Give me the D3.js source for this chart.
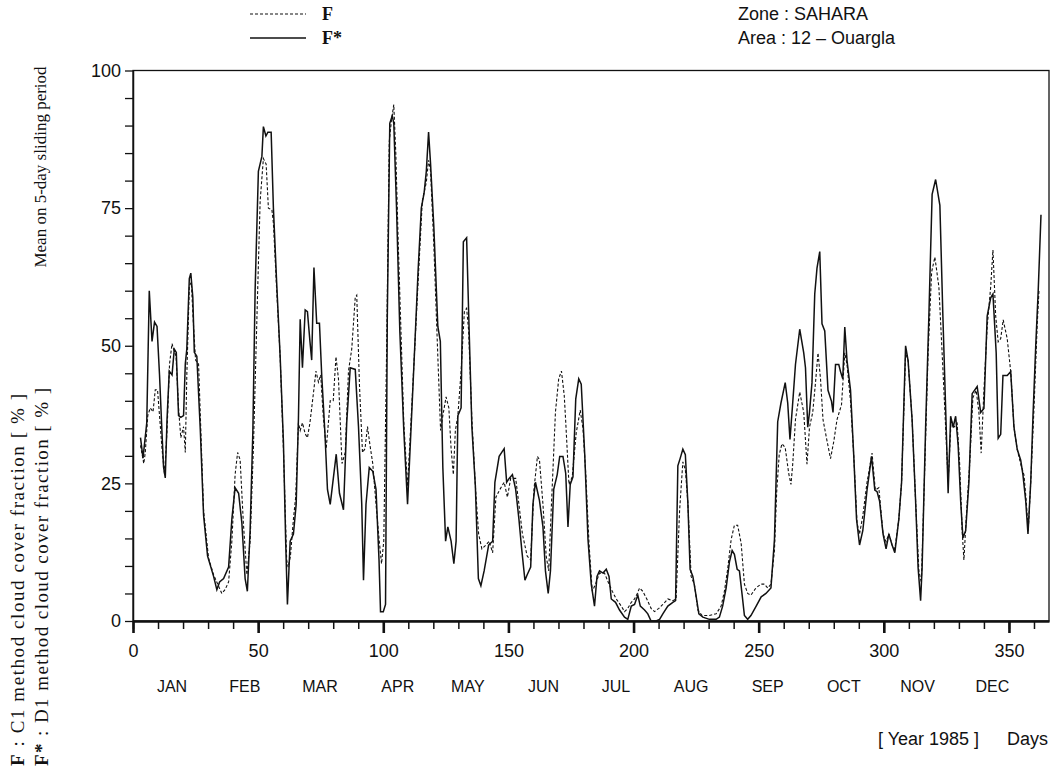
<!DOCTYPE html>
<html>
<head>
<meta charset="utf-8">
<script src="https://cdn.jsdelivr.net/npm/d3@7"></script>
<style>
  html, body { margin: 0; padding: 0; background: #fff; }
  svg { display: block; }
  .plotter { font-family: "Liberation Sans", Arial, sans-serif; fill: #111; }
  .serif { font-family: "Liberation Serif", "DejaVu Serif", serif; fill: #111; }
  .axis text { font-family: "Liberation Sans", Arial, sans-serif; font-size: 18px; fill: #111; }
  .axis line { stroke: #111; }
</style>
</head>
<body>
<svg id="chart" width="1055" height="771"></svg>
<script>
// F* : D1 method (solid line)
const fStarDays = [3, 4, 5.5, 6.5, 7.6, 8.6, 9.6, 10.6, 11.6, 12.2, 12.9, 13.6, 14.5, 15.6, 16.5, 17.3, 18.2, 19.1, 20.2, 20.9,
  21.5, 22.5, 23.1, 23.9, 24.5, 25.5, 26.9, 28.2, 29.8, 30.9, 32.2, 33.5, 34.6, 36.2, 38.2, 39.5, 40.8, 42.2, 43.5, 44.8,
  45.7, 46.8, 47.9, 48.8, 50.1, 51.5, 52.1, 53.1, 53.9, 55.2, 56.1, 57.4, 58.8, 60.1, 61, 61.7, 62.8, 64.1, 65.2, 66.1,
  66.8, 67.7, 68.8, 69.7, 70.7, 71.4, 72.3, 73.4, 74.5, 75.4, 76.7, 77.7, 78.8, 81.2, 82.5, 84.1, 85.4, 86.8, 88.8, 90.1,
  91.4, 92.1, 93.1, 94.4, 95.8, 97.1, 98.3, 98.9, 100, 100.9, 101.6, 102.6, 103.6, 104.2, 105.3, 106.6, 108.2, 109.7, 111.2, 112.6,
  113.9, 115.2, 116.3, 117.2, 118.1, 118.9, 120.2, 121.8, 122.8, 123.8, 124.9, 125.8, 127.1, 128.2, 129.1, 129.8, 131.1, 132, 133.3, 134.4,
  135.4, 136.8, 138, 139, 140.3, 142.1, 143.7, 144.6, 146.3, 148.3, 149.3, 150.3, 151.6, 152.9, 154.2, 155.3, 156.6, 157.5, 158.9, 159.8,
  160.8, 162.4, 163.8, 164.8, 165.9, 166.8, 168.1, 169.5, 170.5, 171.8, 172.9, 173.8, 174.7, 175.8, 176.9, 178.1, 179.1, 180.5, 181.8, 183.1,
  184.4, 185.4, 186.4, 187.8, 189.1, 190.2, 191.1, 192.8, 194.4, 196.4, 197.7, 199.1, 200.4, 201.7, 202.7, 204.4, 205.7, 207, 209, 210.4,
  211.7, 213.7, 215.7, 216.8, 217.7, 218.6, 219.7, 220.7, 221.7, 222.6, 223.7, 224.7, 226.1, 227.7, 230.3, 233, 234.3, 235.6, 237, 238.3,
  239.4, 240.3, 241.4, 242.3, 243.4, 244.3, 245.6, 246.9, 249, 251, 252.9, 254.9, 256.3, 257.6, 258.9, 260.6, 261.6, 262.5, 263.5, 264.7,
  266.4, 268, 268.7, 269.6, 270.3, 271.3, 272.4, 273.3, 274.4, 275.3, 276.4, 277.7, 279.1, 279.7, 280.7, 282, 282.7, 283.6, 284.4, 285.3,
  286.7, 288, 289.1, 290.3, 291.6, 293.3, 295.1, 296.4, 297.3, 298.3, 299.7, 300.9, 302, 303.3, 304.4, 306, 307.1, 308.7, 309.7, 311.3,
  312.7, 313.7, 314.7, 315.3, 316.7, 318, 319.3, 320.7, 322.4, 323.6, 324.7, 325.7, 326.7, 327.7, 328.7, 329.7, 330.7, 331.6, 332.7, 334,
  335.3, 337.3, 338.7, 340, 341.3, 342.7, 343.6, 344.9, 345.7, 346.7, 347.6, 349.3, 350.7, 352, 353.3, 354.7, 355.6, 356.7, 357.6, 358.7,
  359.6, 360.7, 361.7, 362.8];
const fStarValues = [33.3, 29.6, 36, 60, 50.8, 54.3, 53.5, 44.7, 34, 28, 26, 36.7, 45.4, 44.7, 49.4, 48.8, 37.3, 37, 37.3, 46.7,
  49.4, 62.2, 63.2, 58.8, 48.8, 48.1, 34.6, 19.2, 11.8, 10.1, 8.1, 5.7, 7.1, 7.7, 9.8, 18.5, 24.2, 23.2, 17.8, 7.7,
  5.4, 16.5, 34.6, 60.2, 81.7, 84.4, 89.8, 88.1, 88.8, 88.8, 75, 61.5, 48, 32.6, 14.5, 3, 14.5, 15.8, 21.2, 36.7,
  54.8, 46, 56.5, 56.2, 50.8, 47.4, 64.2, 54.1, 54.1, 44.7, 34, 23.9, 21.2, 30.3, 23.2, 20.2, 36, 46, 45.7, 35.3,
  21.2, 7.4, 21.2, 27.9, 27.2, 23.9, 11.1, 1.7, 1.7, 3, 54.8, 90.4, 91.8, 90.4, 75, 52.8, 34.6, 21.2, 36, 50.1,
  63.5, 75, 77.7, 81.7, 88.8, 83, 71.6, 53.5, 50.8, 27.9, 14.5, 17.1, 14.5, 10.4, 14.5, 37.3, 38.7, 68.9, 69.6, 51.4,
  35.3, 24.5, 7.7, 6.4, 9.1, 13.8, 14.5, 25.2, 29.9, 31.3, 25.2, 25.9, 26.6, 23.9, 18.5, 13.1, 7.4, 8.4, 9.8, 21.2,
  25.2, 21.9, 17.1, 9.1, 5, 9.1, 23.9, 26.6, 29.9, 29.9, 26.8, 17.1, 24.8, 26.2, 40.3, 44, 43, 30.2, 14.8, 6.7,
  2.7, 8.1, 9.1, 8.7, 9.4, 8.1, 4, 3.4, 2, 0.7, 0.3, 2.7, 3, 4.7, 2.7, 2, 1.3, 0, 0, 0.3,
  1.3, 2.7, 3.4, 3.7, 28.2, 29.5, 31.2, 30.2, 21.5, 9.4, 8.1, 5.4, 1.3, 0.7, 0.3, 0.3, 0.7, 2.7, 6, 10.7,
  12.8, 12.1, 9.4, 9.1, 4.7, 1, 0.3, 1, 2.7, 4.4, 5, 6, 14.8, 36.2, 39.6, 43.3, 39.6, 33, 39, 46.6,
  53, 48.7, 46, 35.2, 37.9, 43.3, 59.4, 64.1, 67.1, 54, 52.7, 41.9, 39.9, 37.9, 46.6, 46.6, 45.3, 44, 53.4, 47.3,
  41.9, 29.9, 18.5, 13.8, 16.4, 23.8, 29.9, 23.8, 23.5, 21.8, 15.8, 13.1, 15.8, 13.8, 12.4, 18.5, 25.2, 50, 47.3, 36.6,
  21.8, 9.7, 3.7, 9.7, 35.2, 55.4, 77.5, 80.2, 75.5, 55.4, 38.6, 23.2, 37.2, 35.2, 37.2, 31.9, 21.8, 15.1, 16.4, 25.2,
  41.3, 42.6, 37.9, 38.6, 55.4, 58.7, 59.4, 48.7, 33.2, 33.9, 44.6, 44.6, 45.3, 35.2, 31.2, 29.2, 26.5, 21.8, 15.8, 25.2,
  37.2, 50, 60.1, 73.8];

// F : C1 method (dashed line)
const fDays = [3, 4.3, 4.9, 5.9, 6.9, 8, 8.9, 9.8, 10.6, 11.6, 12.6, 13.6, 14.6, 15.6, 16.2, 17.2, 18.2, 19.1, 20.2, 20.9,
  21.5, 22.5, 23.3, 24.2, 25, 26.2, 28.2, 30.2, 32.2, 34.2, 35.5, 36.8, 38.2, 39.5, 40.8, 41.8, 42.8, 44.1, 45.5, 46.8,
  48.1, 49.5, 50.8, 52.1, 53.2, 54.1, 55.5, 56.1, 57.4, 58.8, 60.1, 61.4, 62, 62.9, 64.1, 65, 66.1, 66.8, 67.7, 68.8,
  69.7, 70.7, 72.1, 73.1, 74.1, 75, 76, 77.2, 78.8, 80, 81.1, 82.1, 83.5, 84.8, 86.1, 87.4, 88.8, 89.4, 90.5, 91.7,
  92.7, 93.7, 94.7, 95.8, 97.1, 98.4, 99.3, 100.2, 101.3, 102.4, 103.3, 104.2, 105, 106, 108.2, 109.7, 111.2, 113.9, 115.6, 117.2,
  118.1, 118.9, 120.2, 121.8, 122.9, 123.8, 125.1, 126.2, 127.1, 128, 128.8, 129.8, 131.1, 132.4, 133.3, 134.1, 135.4, 136.8, 138.1, 139.4,
  141, 142.3, 143.7, 145, 146.6, 148.3, 149.6, 150.9, 152.9, 154.2, 155.6, 157.5, 158.9, 160.2, 161.6, 162.4, 163.8, 165.1, 166.1, 167.2,
  168.8, 170.1, 171.2, 172.3, 172.9, 174.2, 175.5, 177.1, 178.7, 179.8, 180.9, 182.2, 183.5, 184.8, 186.4, 188.4, 190.2, 191.5, 193.1, 195.1,
  196.4, 197.7, 199.1, 200.4, 201.5, 202.4, 203.7, 205.3, 207, 208.4, 210.1, 211.7, 213.7, 215.7, 217, 218.4, 219.7, 220.7, 221.7, 223,
  224.3, 225.7, 227.4, 230.3, 233, 235, 236.3, 237.6, 239, 240.3, 241.6, 243, 244.3, 245.6, 246.9, 248.9, 250.9, 252.3, 253.6, 254.9,
  256.3, 257.2, 258.2, 259.3, 260.6, 262, 262.9, 263.6, 264.7, 266.4, 268, 269.3, 270.3, 271.6, 272.7, 273.7, 274.7, 275.7, 277.1, 278.7,
  280, 281.3, 283.1, 284.4, 285.3, 286.7, 288, 289.3, 290.3, 291.6, 293.3, 295.3, 296.6, 298, 299.7, 300.9, 302, 303.3, 304.4, 306,
  307.1, 308.7, 309.7, 311.3, 312.7, 314, 315, 316.4, 317.7, 319.1, 320.4, 322, 323.3, 324.7, 325.7, 326.9, 328, 329.3, 330.3, 331.3,
  332, 332.9, 334.3, 335.6, 336.9, 338, 338.9, 340, 341.3, 342.7, 343.6, 344.7, 345.7, 346.7, 347.7, 349.3, 350.7, 352, 353.3, 354.7,
  356, 356.9, 357.7, 358.7, 360, 361.3, 362];
const fValues = [31.9, 28.6, 30.6, 37.3, 38.7, 38, 42, 42, 37.3, 31.3, 26.6, 34.6, 46.7, 50.4, 49.4, 48.1, 38.7, 33.3, 35.3, 30.6,
  44.7, 60.9, 61.5, 53.5, 47.4, 46.7, 20, 11.4, 8.4, 6.3, 5, 5.7, 7.1, 14.5, 26.6, 30.6, 29.3, 17.8, 8.4, 14.5,
  31.3, 54.8, 76.3, 84, 83, 75, 74.7, 72.3, 60.2, 48, 31.3, 11.1, 9.8, 11.8, 18.5, 22.5, 36, 34.6, 36, 34,
  33.3, 36, 41.4, 45.4, 43.4, 44.7, 37.3, 31.3, 40, 40, 48, 44, 28.6, 30.6, 45.4, 49.4, 58.8, 59.2, 42.7, 30.6,
  31.3, 35.3, 31.9, 28.6, 21.2, 14.5, 10.4, 14.5, 48, 87.1, 91.1, 93.8, 85, 68.3, 36, 24.5, 37.3, 61.5, 76.3, 79.7,
  83.7, 81.7, 68.3, 48, 34.6, 37.3, 40.7, 38.7, 31.3, 26.6, 34.6, 37.3, 45.4, 56.2, 56.8, 52.8, 36.7, 24.5, 15.8, 13.1,
  13.8, 14.5, 12.4, 22.5, 23.9, 25.2, 22.5, 25.9, 25.9, 21.2, 15.8, 11.8, 11.1, 23.9, 29.9, 29.3, 21.2, 11.8, 9.1, 21.2,
  38, 44, 45.4, 41, 36.2, 24.8, 26.2, 34.2, 38.3, 34.9, 26.8, 14.1, 5.4, 6.7, 8.7, 8.7, 6.7, 5.4, 4, 2.7,
  1.7, 2.3, 3.4, 4, 5, 6, 5.4, 4, 2.3, 1.7, 2.3, 3, 4, 3.7, 4, 20.1, 28.9, 27.5, 21.5, 8.1,
  6.7, 2, 1, 1, 1.3, 2.7, 5.4, 9.4, 14.8, 17.4, 17.4, 14.1, 6.7, 5, 4.7, 6, 6.7, 6.7, 6, 6.7,
  12.8, 23.5, 30.2, 32.2, 31.5, 26.8, 24.8, 28.5, 36.6, 41.6, 37.9, 28.5, 35.2, 37.9, 43.3, 48.7, 44, 36.6, 33.2, 29.5,
  32.6, 36.6, 39.3, 48.7, 46.6, 39.9, 29.9, 17.8, 15.8, 19.1, 25.2, 30.5, 23.8, 24.2, 15.8, 14.4, 15.8, 13.8, 13.1, 18.5,
  25.2, 48.7, 47.3, 36.6, 21.8, 9.1, 7, 28.5, 48.7, 63.4, 66.1, 60.7, 48.7, 35.2, 25.2, 36.6, 35.2, 35.9, 28.5, 16.4,
  11.1, 18.5, 28.5, 40.6, 41.9, 37.9, 30.5, 41.9, 53.4, 60.7, 67.4, 55.4, 50.7, 51.3, 54.7, 51.3, 45.3, 35.2, 31.2, 28.5,
  26.5, 21.8, 16.4, 25.2, 38.6, 54, 60.1];

// axis labels
const xMajorTicks = [0, 50, 100, 150, 200, 250, 300, 350];
const yMajorTicks = [0, 25, 50, 75, 100];
const months = ["JAN", "FEB", "MAR", "APR", "MAY", "JUN", "JUL", "AUG", "SEP", "OCT", "NOV", "DEC"];
const monthLabelDays = [15.6, 44.7, 74.7, 105.8, 133.8, 164, 193, 223, 253.6, 284, 313.5, 343.4];

const svg = d3.select("#chart");

const x = d3.scaleLinear().domain([0, 366]).range([133, 1049]);
const y = d3.scaleLinear().domain([0, 100]).range([621, 70.5]);

// frame
svg.append("rect")
  .attr("x", x(0))
  .attr("y", y(100))
  .attr("width", x(366) - x(0))
  .attr("height", y(0) - y(100))
  .attr("fill", "none")
  .attr("stroke", "#111")
  .attr("stroke-width", 1.3);

// x axis: minor ticks every 10 days, longer ticks every 50
const xMinor = svg.append("g")
  .attr("class", "axis")
  .attr("transform", `translate(0,${y(0)})`)
  .call(d3.axisBottom(x).tickValues(d3.range(0, 361, 10)).tickSize(8).tickSizeOuter(0).tickFormat(""));
xMinor.select(".domain").remove();
xMinor.selectAll("line").attr("stroke-width", 1.5);

const xMajor = svg.append("g")
  .attr("class", "axis")
  .attr("transform", `translate(0,${y(0)})`)
  .call(d3.axisBottom(x).tickValues(xMajorTicks).tickSize(12).tickSizeOuter(0).tickPadding(11));
xMajor.select(".domain").attr("stroke", "#111").attr("stroke-width", 2.6);
xMajor.selectAll("line").attr("stroke-width", 2.6);

// y axis
const yAxis = svg.append("g")
  .attr("class", "axis")
  .attr("transform", `translate(${x(0)},0)`)
  .call(d3.axisLeft(y).tickValues(d3.range(0, 101, 5)).tickSize(8).tickSizeOuter(0).tickPadding(4)
    .tickFormat((d) => (yMajorTicks.includes(d) ? d : "")));
yAxis.select(".domain").attr("stroke", "#111").attr("stroke-width", 1.5);
yAxis.selectAll("line").attr("stroke-width", 1.3);

// series
const fStar = fStarDays.map((d, i) => [d, fStarValues[i]]);
const f = fDays.map((d, i) => [d, fValues[i]]);
const line = d3.line().x((d) => x(d[0])).y((d) => y(d[1]));

svg.append("path")
  .datum(f)
  .attr("d", line)
  .attr("fill", "none")
  .attr("stroke", "#111")
  .attr("stroke-width", 1.1)
  .attr("stroke-dasharray", "3,2");

svg.append("path")
  .datum(fStar)
  .attr("d", line)
  .attr("fill", "none")
  .attr("stroke", "#111")
  .attr("stroke-width", 1.5);

// month labels
svg.append("g")
  .selectAll("text")
  .data(months)
  .enter()
  .append("text")
  .attr("class", "plotter")
  .attr("x", (d, i) => x(monthLabelDays[i]))
  .attr("y", 692)
  .attr("text-anchor", "middle")
  .attr("font-size", 16)
  .text((d) => d);

svg.append("text").attr("class", "plotter").attr("x", 878).attr("y", 745)
  .attr("font-size", 18).text("[ Year 1985 ]");
svg.append("text").attr("class", "plotter").attr("x", 1048).attr("y", 745)
  .attr("font-size", 18).attr("text-anchor", "end").text("Days");

// zone / area
svg.append("text").attr("class", "plotter").attr("x", 738).attr("y", 20)
  .attr("font-size", 18).text("Zone : SAHARA");
svg.append("text").attr("class", "plotter").attr("x", 738).attr("y", 44)
  .attr("font-size", 18).text("Area : 12 \u2013 Ouargla");

// legend
const legend = svg.append("g");
legend.append("line").attr("x1", 250).attr("x2", 306).attr("y1", 14).attr("y2", 14)
  .attr("stroke", "#111").attr("stroke-width", 1.1).attr("stroke-dasharray", "3,2");
legend.append("line").attr("x1", 250).attr("x2", 306).attr("y1", 38).attr("y2", 38)
  .attr("stroke", "#111").attr("stroke-width", 1.5);
legend.append("text").attr("class", "serif").attr("x", 322).attr("y", 20)
  .attr("font-size", 18).attr("font-weight", "bold").text("F");
legend.append("text").attr("class", "serif").attr("x", 322).attr("y", 44)
  .attr("font-size", 18).attr("font-weight", "bold").text("F*");

// rotated y titles
svg.append("text").attr("class", "serif")
  .attr("transform", "translate(46,167) rotate(-90)")
  .attr("text-anchor", "middle")
  .attr("font-size", 17)
  .text("Mean on 5-day sliding period");

const t1 = svg.append("text").attr("class", "serif")
  .attr("transform", "translate(24,766) rotate(-90)")
  .attr("font-size", 19)
  .attr("textLength", 372)
  .attr("lengthAdjust", "spacing");
t1.append("tspan").attr("font-weight", "bold").text("F");
t1.append("tspan").text(" : C1 method cloud cover fraction [ % ]");

const t2 = svg.append("text").attr("class", "serif")
  .attr("transform", "translate(48,766) rotate(-90)")
  .attr("font-size", 19)
  .attr("textLength", 378)
  .attr("lengthAdjust", "spacing");
t2.append("tspan").attr("font-weight", "bold").text("F*");
t2.append("tspan").text(" : D1 method cloud cover fraction [ % ]");
</script>
</body>
</html>
